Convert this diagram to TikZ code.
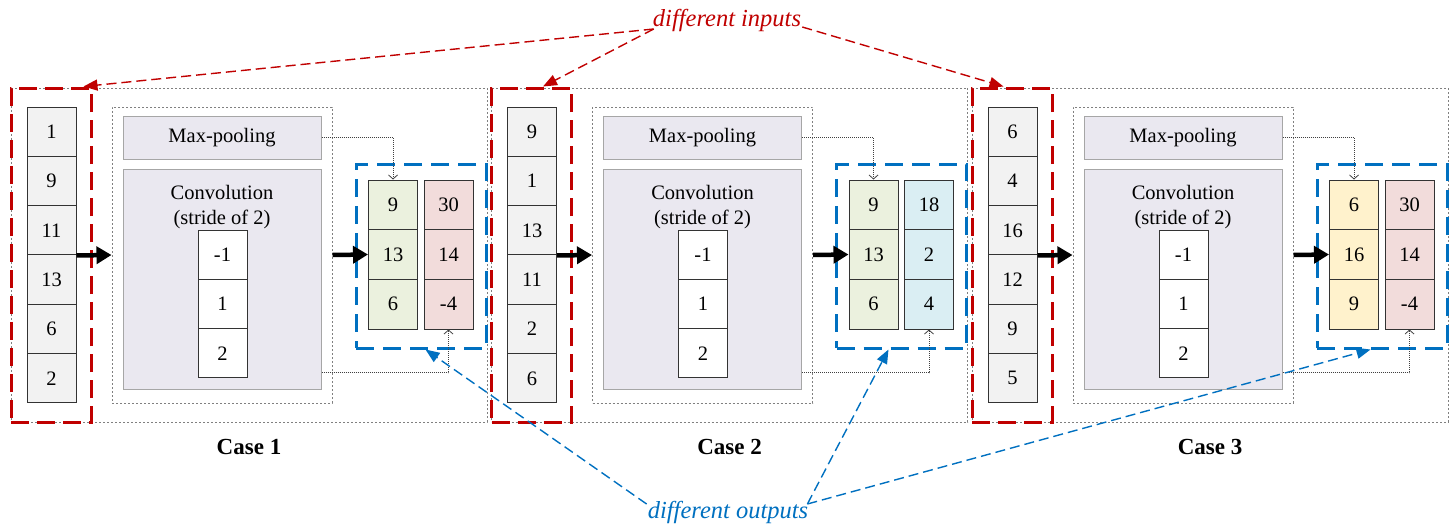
\documentclass[tikz,border=0pt]{standalone}
\usepackage{fontspec}
\setmainfont{Liberation Serif}
\usetikzlibrary{arrows.meta,calc}
\definecolor{redd}{HTML}{C00000}
\definecolor{blued}{HTML}{0070C0}
\definecolor{cellgray}{HTML}{F2F2F2}
\definecolor{lav}{HTML}{EAE8F0}
\definecolor{lavb}{HTML}{A6A6A6}
\definecolor{grn}{HTML}{EBF1DE}
\definecolor{pnk}{HTML}{F2DCDB}
\definecolor{blu}{HTML}{DAEEF3}
\definecolor{ylw}{HTML}{FFF2CC}
\definecolor{dotc}{HTML}{808080}
\tikzset{
  txt/.style={font=\fontsize{20.5}{25}\selectfont},
  outerbox/.style={draw=dotc, line width=1pt, dash pattern=on 2pt off 2pt},
  innerbox/.style={draw=dotc, line width=1pt, dash pattern=on 2pt off 2pt},
  redbox/.style={draw=redd, line width=3pt, dash pattern=on 18pt off 8pt},
  bluebox/.style={draw=blued, line width=3pt, dash pattern=on 18pt off 9pt},
  cell/.style={draw=black!80, line width=1pt, txt, minimum width=49pt, inner sep=0pt},
  panel/.style={draw=lavb, fill=lav, line width=1pt, txt, inner sep=0pt},
  bigarrow/.style={line width=4.5pt, -{Triangle[length=15pt,width=17pt]}},
  smallarrow/.style={draw=black!75, line width=0.8pt, dash pattern=on 1pt off 1pt, -{Straight Barb[length=4pt,width=9pt]}},
  redarrow/.style={draw=redd, line width=1.4pt, dash pattern=on 10pt off 5pt, -{Triangle[length=14pt,width=11pt]}},
  bluearrow/.style={draw=blued, line width=1.4pt, dash pattern=on 10pt off 5pt, -{Triangle[length=14pt,width=11pt]}},
  caselbl/.style={font=\bfseries\fontsize{23}{26}\selectfont},
  lbl/.style={font=\itshape\fontsize{24.5}{28}\selectfont, inner sep=1pt}
}
\begin{document}
\begin{tikzpicture}[x=1pt,y=-1pt]
\useasboundingbox (0,0) rectangle (1453,527);
\foreach \k/\o/\ins/\oa/\ob/\ca/\cb in {%
  1/0/{1,9,11,13,6,2}/{9,13,6}/{30,14,-4}/grn/pnk,%
  2/480.5/{9,1,13,11,2,6}/{9,13,6}/{18,2,4}/grn/blu,%
  3/961/{6,4,16,12,9,5}/{6,16,9}/{30,14,-4}/ylw/pnk}{
\begin{scope}[xshift=\o pt]
  \node[outerbox, minimum width=476pt, minimum height=334pt] (outer\k) at (249,255) {};
  \node[innerbox, minimum width=220pt, minimum height=296pt] (inner\k) at (222,255) {};
  \node[panel, minimum width=198pt, minimum height=43pt] (mp\k) at (222,137.5) {Max-pooling};
  \node[panel, minimum width=198pt, minimum height=220pt] (conv\k) at (222,279) {};
  \node[txt, align=center, inner sep=0pt] (convt\k) at (222,207.5) {Convolution\\(stride of 2)};
  \foreach \v [count=\i] in \ins {
    \node[cell, fill=cellgray, minimum height=49.33pt] (in\k-\i) at (51.5,{107+49.33*(\i-0.5)}) {\v};
  }
  \foreach \v [count=\i] in {-1,1,2} {
    \node[cell, fill=white, minimum height=49.33pt] (ker\k-\i) at (222.5,{230+49.33*(\i-0.5)}) {\v};
  }
  \foreach \v [count=\i] in \oa {
    \node[cell, fill=\ca, minimum height=49.67pt] (oa\k-\i) at (393,{180+49.67*(\i-0.5)}) {\v};
  }
  \foreach \v [count=\i] in \ob {
    \node[cell, fill=\cb, minimum height=49.67pt] (ob\k-\i) at (448.5,{180+49.67*(\i-0.5)}) {\v};
  }
  \node[redbox, minimum width=80pt, minimum height=334pt] (red\k) at (51,255) {};
  \node[bluebox, minimum width=130pt, minimum height=184pt] (blue\k) at (421,256) {};
  \draw[bigarrow] (in\k-3.south east) -- (inner\k.west);
  \draw[bigarrow] (inner\k.east) -- (oa\k-2.west);
  \draw[smallarrow] (mp\k.east) -| (oa\k-1.north);
  \coordinate (cb\k) at ($(conv\k.south east)+(0,-17)$);
  \draw[smallarrow] (cb\k) -| (ob\k-3.south);
  \node[caselbl] (case\k) at (249,447) {Case \k};
\end{scope}
}
% different inputs
\node[lbl, text=redd] (inputs) at (727,20) {different inputs};
\coordinate (ri1) at ($(red1.north west)+(74,0)$);
\coordinate (ri2) at ($(red2.north west)+(53,0)$);
\coordinate (ri3) at ($(red3.north west)+(33,0)$);
\coordinate (il) at ($(inputs.west)+(2,9)$);
\coordinate (ir) at ($(inputs.east)+(0,7)$);
\draw[redarrow] (il) -- (ri1);
\draw[redarrow] (il) -- (ri2);
\draw[redarrow] (ir) -- (ri3);
% different outputs
\node[lbl, text=blued] (outputs) at (728,512) {different outputs};
\coordinate (bo1) at ($(blue1.south west)+(71,0)$);
\coordinate (bo2) at ($(blue2.south west)+(53.5,0)$);
\coordinate (bo3) at ($(blue3.south west)+(55,0)$);
\coordinate (ol) at ($(outputs.west)+(0,-8)$);
\coordinate (or) at ($(outputs.east)+(-2,-8)$);
\draw[bluearrow] (ol) -- (bo1);
\draw[bluearrow] (or) -- (bo2);
\draw[bluearrow] (or) -- (bo3);
\end{tikzpicture}
\end{document}
